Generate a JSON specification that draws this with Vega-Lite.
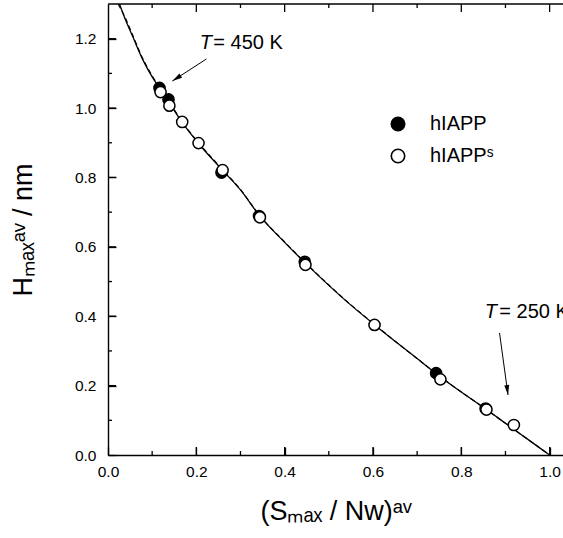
{
  "$schema": "https://vega.github.io/schema/vega-lite/v6.json",
  "width": 455,
  "height": 451,
  "autosize": "none",
  "padding": {"left": 108, "top": 4, "right": 0, "bottom": 83},
  "background": "white",
  "config": {
    "view": {"stroke": null},
    "font": "Liberation Sans",
    "axis": {
      "domainColor": "black",
      "domainWidth": 1.4,
      "tickColor": "black",
      "tickWidth": 1.3,
      "labelColor": "black",
      "labelFont": "Liberation Sans",
      "labelFontSize": 15.5,
      "titleColor": "black",
      "titleFont": "Liberation Sans",
      "titleFontSize": 27,
      "titleFontWeight": "normal",
      "grid": false,
      "labelFlush": false
    },
    "legend": {
      "orient": "none",
      "legendX": 280,
      "legendY": 110,
      "symbolType": "circle",
      "symbolSize": 180,
      "symbolStrokeColor": "black",
      "symbolStrokeWidth": 1.6,
      "labelFont": "Liberation Sans",
      "labelFontSize": 20,
      "labelColor": "black",
      "labelOffset": 22,
      "rowPadding": 12
    }
  },
  "datasets": {
    "solid": [
      {"x": 0.026, "y": 1.30}, {"x": 0.04, "y": 1.253}, {"x": 0.056, "y": 1.206},
      {"x": 0.079, "y": 1.139}, {"x": 0.10, "y": 1.09}, {"x": 0.12, "y": 1.052},
      {"x": 0.14, "y": 1.013}, {"x": 0.17, "y": 0.955}, {"x": 0.205, "y": 0.898},
      {"x": 0.26, "y": 0.82}, {"x": 0.30, "y": 0.764}, {"x": 0.343, "y": 0.69},
      {"x": 0.40, "y": 0.613}, {"x": 0.447, "y": 0.553}, {"x": 0.50, "y": 0.489},
      {"x": 0.55, "y": 0.432}, {"x": 0.604, "y": 0.375}, {"x": 0.65, "y": 0.328},
      {"x": 0.70, "y": 0.278}, {"x": 0.75, "y": 0.228}, {"x": 0.80, "y": 0.1815},
      {"x": 0.857, "y": 0.131}, {"x": 0.90, "y": 0.0914}, {"x": 0.95, "y": 0.0457},
      {"x": 1.0, "y": 0.0}
    ],
    "dashed": [
      {"x": 0.023, "y": 1.30}, {"x": 0.04, "y": 1.258}, {"x": 0.056, "y": 1.21},
      {"x": 0.079, "y": 1.142}, {"x": 0.10, "y": 1.093}, {"x": 0.12, "y": 1.054},
      {"x": 0.14, "y": 1.015}, {"x": 0.17, "y": 0.957}, {"x": 0.205, "y": 0.9},
      {"x": 0.26, "y": 0.822}, {"x": 0.30, "y": 0.765}, {"x": 0.343, "y": 0.691},
      {"x": 0.40, "y": 0.614}, {"x": 0.447, "y": 0.554}, {"x": 0.50, "y": 0.49},
      {"x": 0.55, "y": 0.433}, {"x": 0.604, "y": 0.376}, {"x": 0.65, "y": 0.328},
      {"x": 0.70, "y": 0.278}, {"x": 0.75, "y": 0.228}, {"x": 0.80, "y": 0.1815},
      {"x": 0.857, "y": 0.131}, {"x": 0.90, "y": 0.0914}, {"x": 0.95, "y": 0.0457},
      {"x": 1.0, "y": 0.0}
    ],
    "xticks": [
      {"v": 0.1, "kind": "minor"}, {"v": 0.2, "kind": "major"}, {"v": 0.3, "kind": "minor"},
      {"v": 0.4, "kind": "major"}, {"v": 0.5, "kind": "minor"}, {"v": 0.6, "kind": "major"},
      {"v": 0.7, "kind": "minor"}, {"v": 0.8, "kind": "major"}, {"v": 0.9, "kind": "minor"},
      {"v": 1.0, "kind": "major"}
    ],
    "yticks": [
      {"v": 0.1, "kind": "minor"}, {"v": 0.2, "kind": "major"}, {"v": 0.3, "kind": "minor"},
      {"v": 0.4, "kind": "major"}, {"v": 0.5, "kind": "minor"}, {"v": 0.6, "kind": "major"},
      {"v": 0.7, "kind": "minor"}, {"v": 0.8, "kind": "major"}, {"v": 0.9, "kind": "minor"},
      {"v": 1.0, "kind": "major"}, {"v": 1.1, "kind": "minor"}, {"v": 1.2, "kind": "major"}
    ],
    "points": [
      {"x": 0.1166, "y": 1.058, "series": "hIAPP"},
      {"x": 0.137, "y": 1.025, "series": "hIAPP"},
      {"x": 0.257, "y": 0.814, "series": "hIAPP"},
      {"x": 0.342, "y": 0.689, "series": "hIAPP"},
      {"x": 0.4455, "y": 0.557, "series": "hIAPP"},
      {"x": 0.743, "y": 0.236, "series": "hIAPP"},
      {"x": 0.855, "y": 0.134, "series": "hIAPP"},
      {"x": 0.119, "y": 1.046, "series": "hIAPPˢ"},
      {"x": 0.139, "y": 1.007, "series": "hIAPPˢ"},
      {"x": 0.168, "y": 0.96, "series": "hIAPPˢ"},
      {"x": 0.205, "y": 0.899, "series": "hIAPPˢ"},
      {"x": 0.2595, "y": 0.821, "series": "hIAPPˢ"},
      {"x": 0.344, "y": 0.685, "series": "hIAPPˢ"},
      {"x": 0.447, "y": 0.548, "series": "hIAPPˢ"},
      {"x": 0.6035, "y": 0.375, "series": "hIAPPˢ"},
      {"x": 0.7527, "y": 0.218, "series": "hIAPPˢ"},
      {"x": 0.857, "y": 0.131, "series": "hIAPPˢ"},
      {"x": 0.919, "y": 0.0865, "series": "hIAPPˢ"}
    ],
    "arrows": [
      {"arrow": "450", "x": 0.2228, "y": 1.1415, "x2": 0.1458, "y2": 1.078},
      {"arrow": "250", "x": 0.8866, "y": 0.3517, "x2": 0.9058, "y2": 0.173}
    ],
    "labelsT": [
      {"x": 0.2077, "y": 1.187, "text": "T"},
      {"x": 0.853, "y": 0.413, "text": "T"}
    ],
    "labelsRest": [
      {"x": 0.2385, "y": 1.187, "text": "= 450 K"},
      {"x": 0.886, "y": 0.413, "text": "= 250 K"}
    ]
  },
  "layer": [
    {
      "data": {"name": "solid"},
      "mark": {"type": "line", "color": "black", "strokeWidth": 1.3, "interpolate": "monotone", "clip": true},
      "encoding": {
        "x": {
          "field": "x", "type": "quantitative",
          "scale": {"domain": [0, 1.0303], "nice": false, "zero": false},
          "axis": {
            "orient": "bottom",
            "title": "(Sₘₐₓ / Nw)ᵃᵛ",
            "titlePadding": 19,
            "values": [0, 0.2, 0.4, 0.6, 0.8, 1.0],
            "format": ".1f",
            "tickSize": -8,
            "labelPadding": 17
          }
        },
        "y": {
          "field": "y", "type": "quantitative",
          "scale": {"domain": [0, 1.3], "nice": false, "zero": false},
          "axis": {
            "orient": "left",
            "title": "Hₘₐₓᵃᵛ / nm",
            "titlePadding": 37,
            "values": [0, 0.2, 0.4, 0.6, 0.8, 1.0, 1.2],
            "format": ".1f",
            "tickSize": -8,
            "labelPadding": 20
          }
        }
      }
    },
    {
      "data": {"name": "dashed"},
      "mark": {"type": "line", "color": "black", "strokeWidth": 1.2, "strokeDash": [5, 3], "interpolate": "monotone", "clip": true},
      "encoding": {
        "x": {"field": "x", "type": "quantitative"},
        "y": {"field": "y", "type": "quantitative"}
      }
    },
    {
      "data": {"values": [{"edge": "top"}]},
      "mark": {"type": "rule", "color": "black", "strokeWidth": 1.4},
      "encoding": {
        "x": {"datum": 0, "type": "quantitative"},
        "x2": {"datum": 1.0303},
        "y": {"datum": 1.3, "type": "quantitative"},
        "y2": {"datum": 1.3}
      }
    },
    {
      "data": {"name": "xticks"},
      "transform": [{"filter": "datum.kind == 'major'"}],
      "mark": {"type": "rule", "color": "black", "strokeWidth": 1.3},
      "encoding": {
        "x": {"field": "v", "type": "quantitative"},
        "y": {"datum": 0, "type": "quantitative"},
        "y2": {"datum": 0.0231}
      }
    },
    {
      "data": {"name": "xticks"},
      "transform": [{"filter": "datum.kind == 'minor'"}],
      "mark": {"type": "rule", "color": "black", "strokeWidth": 1.3},
      "encoding": {
        "x": {"field": "v", "type": "quantitative"},
        "y": {"datum": 0, "type": "quantitative"},
        "y2": {"datum": 0.0115}
      }
    },
    {
      "data": {"name": "xticks"},
      "transform": [{"filter": "datum.kind == 'major'"}],
      "mark": {"type": "rule", "color": "black", "strokeWidth": 1.3},
      "encoding": {
        "x": {"field": "v", "type": "quantitative"},
        "y": {"datum": 1.3, "type": "quantitative"},
        "y2": {"datum": 1.2769}
      }
    },
    {
      "data": {"name": "xticks"},
      "transform": [{"filter": "datum.kind == 'minor'"}],
      "mark": {"type": "rule", "color": "black", "strokeWidth": 1.3},
      "encoding": {
        "x": {"field": "v", "type": "quantitative"},
        "y": {"datum": 1.3, "type": "quantitative"},
        "y2": {"datum": 1.2885}
      }
    },
    {
      "data": {"name": "yticks"},
      "transform": [{"filter": "datum.kind == 'major'"}],
      "mark": {"type": "rule", "color": "black", "strokeWidth": 1.3},
      "encoding": {
        "y": {"field": "v", "type": "quantitative"},
        "x": {"datum": 0, "type": "quantitative"},
        "x2": {"datum": 0.0181}
      }
    },
    {
      "data": {"name": "yticks"},
      "transform": [{"filter": "datum.kind == 'minor'"}],
      "mark": {"type": "rule", "color": "black", "strokeWidth": 1.3},
      "encoding": {
        "y": {"field": "v", "type": "quantitative"},
        "x": {"datum": 0, "type": "quantitative"},
        "x2": {"datum": 0.0091}
      }
    },
    {
      "data": {"name": "points"},
      "mark": {"type": "point", "shape": "circle", "filled": true, "size": 125, "stroke": "black", "strokeWidth": 1.5, "opacity": 1},
      "encoding": {
        "x": {"field": "x", "type": "quantitative"},
        "y": {"field": "y", "type": "quantitative"},
        "fill": {
          "field": "series", "type": "nominal",
          "scale": {"domain": ["hIAPP", "hIAPPˢ"], "range": ["black", "white"]},
          "legend": {"title": null}
        }
      }
    },
    {
      "data": {"name": "arrows"},
      "mark": {"type": "rule", "color": "black", "strokeWidth": 1},
      "encoding": {
        "x": {"field": "x", "type": "quantitative"},
        "y": {"field": "y", "type": "quantitative"},
        "x2": {"field": "x2"},
        "y2": {"field": "y2"}
      }
    },
    {
      "data": {"name": "arrows"},
      "transform": [{"filter": "datum.arrow == '450'"}],
      "mark": {"type": "point", "shape": "M0,0L0.5,2L-0.5,2Z", "filled": true, "color": "black", "size": 100, "angle": 237, "opacity": 1},
      "encoding": {
        "x": {"field": "x2", "type": "quantitative"},
        "y": {"field": "y2", "type": "quantitative"}
      }
    },
    {
      "data": {"name": "arrows"},
      "transform": [{"filter": "datum.arrow == '250'"}],
      "mark": {"type": "point", "shape": "M0,0L0.5,2L-0.5,2Z", "filled": true, "color": "black", "size": 100, "angle": 172.6, "opacity": 1},
      "encoding": {
        "x": {"field": "x2", "type": "quantitative"},
        "y": {"field": "y2", "type": "quantitative"}
      }
    },
    {
      "data": {"name": "labelsT"},
      "mark": {"type": "text", "align": "left", "baseline": "middle", "fontSize": 20, "fontStyle": "italic", "font": "Liberation Sans", "color": "black"},
      "encoding": {
        "x": {"field": "x", "type": "quantitative"},
        "y": {"field": "y", "type": "quantitative"},
        "text": {"field": "text"}
      }
    },
    {
      "data": {"name": "labelsRest"},
      "mark": {"type": "text", "align": "left", "baseline": "middle", "fontSize": 20, "font": "Liberation Sans", "color": "black"},
      "encoding": {
        "x": {"field": "x", "type": "quantitative"},
        "y": {"field": "y", "type": "quantitative"},
        "text": {"field": "text"}
      }
    }
  ]
}
